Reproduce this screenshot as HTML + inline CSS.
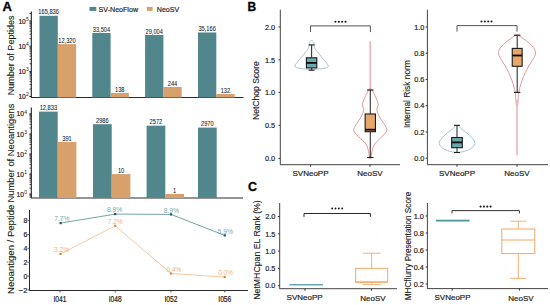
<!DOCTYPE html>
<html><head><meta charset="utf-8"><style>
html,body{margin:0;padding:0;background:#fff;}
svg{display:block;font-family:"Liberation Sans", sans-serif;}
text{paint-order:stroke;}
</style></head><body>
<svg width="550" height="305" viewBox="0 0 550 305">
<rect width="550" height="305" fill="#fff"/>
<text x="2.4" y="10.5" font-size="13" text-anchor="start" fill="#000" font-weight="bold" stroke="#000" stroke-width="0.325" >A</text>
<text x="247.6" y="10.8" font-size="12" text-anchor="start" fill="#000" font-weight="bold" stroke="#000" stroke-width="0.3" >B</text>
<text x="248" y="190.6" font-size="12.5" text-anchor="start" fill="#000" font-weight="bold" stroke="#000" stroke-width="0.312" >C</text>
<line x1="31.3" y1="11.5" x2="31.3" y2="97.5" stroke="#1e1e1e" stroke-width="1.1" />
<line x1="29.3" y1="21.05" x2="31.3" y2="21.05" stroke="#1e1e1e" stroke-width="1" />
<text x="25.8" y="23.55" font-size="7.6" text-anchor="end" fill="#1a1a1a" stroke="#1a1a1a" stroke-width="0.2" textLength="7.4" lengthAdjust="spacingAndGlyphs">10</text>
<text x="26.1" y="20.85" font-size="5" text-anchor="start" fill="#1a1a1a">5</text>
<line x1="29.3" y1="46.2" x2="31.3" y2="46.2" stroke="#1e1e1e" stroke-width="1" />
<text x="25.8" y="48.7" font-size="7.6" text-anchor="end" fill="#1a1a1a" stroke="#1a1a1a" stroke-width="0.2" textLength="7.4" lengthAdjust="spacingAndGlyphs">10</text>
<text x="26.1" y="46.0" font-size="5" text-anchor="start" fill="#1a1a1a">4</text>
<line x1="29.3" y1="71.4" x2="31.3" y2="71.4" stroke="#1e1e1e" stroke-width="1" />
<text x="25.8" y="73.9" font-size="7.6" text-anchor="end" fill="#1a1a1a" stroke="#1a1a1a" stroke-width="0.2" textLength="7.4" lengthAdjust="spacingAndGlyphs">10</text>
<text x="26.1" y="71.2" font-size="5" text-anchor="start" fill="#1a1a1a">3</text>
<line x1="29.3" y1="96.56" x2="31.3" y2="96.56" stroke="#1e1e1e" stroke-width="1" />
<text x="25.8" y="99.06" font-size="7.6" text-anchor="end" fill="#1a1a1a" stroke="#1a1a1a" stroke-width="0.2" textLength="7.4" lengthAdjust="spacingAndGlyphs">10</text>
<text x="26.1" y="96.36" font-size="5" text-anchor="start" fill="#1a1a1a">2</text>
<line x1="29.5" y1="38.62909560905088" x2="31.3" y2="38.62909560905088" stroke="#1e1e1e" stroke-width="0.8" />
<line x1="29.5" y1="34.20040044380049" x2="31.3" y2="34.20040044380049" stroke="#1e1e1e" stroke-width="0.8" />
<line x1="29.5" y1="31.058191218101747" x2="31.3" y2="31.058191218101747" stroke="#1e1e1e" stroke-width="0.8" />
<line x1="29.5" y1="28.62090439094913" x2="31.3" y2="28.62090439094913" stroke="#1e1e1e" stroke-width="0.8" />
<line x1="29.5" y1="26.629496052851366" x2="31.3" y2="26.629496052851366" stroke="#1e1e1e" stroke-width="0.8" />
<line x1="29.5" y1="24.94578429364144" x2="31.3" y2="24.94578429364144" stroke="#1e1e1e" stroke-width="0.8" />
<line x1="29.5" y1="23.48728682715262" x2="31.3" y2="23.48728682715262" stroke="#1e1e1e" stroke-width="0.8" />
<line x1="29.5" y1="22.20080088760098" x2="31.3" y2="22.20080088760098" stroke="#1e1e1e" stroke-width="0.8" />
<line x1="29.5" y1="63.779095609050884" x2="31.3" y2="63.779095609050884" stroke="#1e1e1e" stroke-width="0.8" />
<line x1="29.5" y1="59.350400443800496" x2="31.3" y2="59.350400443800496" stroke="#1e1e1e" stroke-width="0.8" />
<line x1="29.5" y1="56.20819121810175" x2="31.3" y2="56.20819121810175" stroke="#1e1e1e" stroke-width="0.8" />
<line x1="29.5" y1="53.770904390949134" x2="31.3" y2="53.770904390949134" stroke="#1e1e1e" stroke-width="0.8" />
<line x1="29.5" y1="51.77949605285137" x2="31.3" y2="51.77949605285137" stroke="#1e1e1e" stroke-width="0.8" />
<line x1="29.5" y1="50.095784293641444" x2="31.3" y2="50.095784293641444" stroke="#1e1e1e" stroke-width="0.8" />
<line x1="29.5" y1="48.63728682715262" x2="31.3" y2="48.63728682715262" stroke="#1e1e1e" stroke-width="0.8" />
<line x1="29.5" y1="47.35080088760098" x2="31.3" y2="47.35080088760098" stroke="#1e1e1e" stroke-width="0.8" />
<line x1="29.5" y1="88.97909560905089" x2="31.3" y2="88.97909560905089" stroke="#1e1e1e" stroke-width="0.8" />
<line x1="29.5" y1="84.5504004438005" x2="31.3" y2="84.5504004438005" stroke="#1e1e1e" stroke-width="0.8" />
<line x1="29.5" y1="81.40819121810176" x2="31.3" y2="81.40819121810176" stroke="#1e1e1e" stroke-width="0.8" />
<line x1="29.5" y1="78.97090439094913" x2="31.3" y2="78.97090439094913" stroke="#1e1e1e" stroke-width="0.8" />
<line x1="29.5" y1="76.97949605285137" x2="31.3" y2="76.97949605285137" stroke="#1e1e1e" stroke-width="0.8" />
<line x1="29.5" y1="75.29578429364145" x2="31.3" y2="75.29578429364145" stroke="#1e1e1e" stroke-width="0.8" />
<line x1="29.5" y1="73.83728682715262" x2="31.3" y2="73.83728682715262" stroke="#1e1e1e" stroke-width="0.8" />
<line x1="29.5" y1="72.55080088760099" x2="31.3" y2="72.55080088760099" stroke="#1e1e1e" stroke-width="0.8" />
<line x1="29.5" y1="13.479095609050873" x2="31.3" y2="13.479095609050873" stroke="#1e1e1e" stroke-width="0.8" />
<line x1="31" y1="97.5" x2="243.6" y2="97.5" stroke="#2a2a2a" stroke-width="1" />
<rect x="39.5" y="15.8" width="18.3" height="81.7" fill="#50868C" />
<rect x="57.8" y="44.1" width="18.3" height="53.4" fill="#D8A06B" />
<text x="48.65" y="14.4" font-size="6.5" text-anchor="middle" fill="#1a1a1a" font-weight="normal" stroke="#1a1a1a" stroke-width="0.06" textLength="20.60" lengthAdjust="spacingAndGlyphs">165,836</text>
<text x="66.95" y="42.7" font-size="6.5" text-anchor="middle" fill="#1a1a1a" font-weight="normal" stroke="#1a1a1a" stroke-width="0.06" textLength="17.43" lengthAdjust="spacingAndGlyphs">12,320</text>
<rect x="92.3" y="33" width="18.3" height="64.5" fill="#50868C" />
<rect x="110.6" y="93" width="18.3" height="4.5" fill="#D8A06B" />
<text x="101.45" y="31.6" font-size="6.5" text-anchor="middle" fill="#1a1a1a" font-weight="normal" stroke="#1a1a1a" stroke-width="0.06" textLength="17.43" lengthAdjust="spacingAndGlyphs">33,504</text>
<text x="119.75" y="91.6" font-size="6.5" text-anchor="middle" fill="#1a1a1a" font-weight="normal" stroke="#1a1a1a" stroke-width="0.06" textLength="9.51" lengthAdjust="spacingAndGlyphs">138</text>
<rect x="145.1" y="35" width="18.3" height="62.5" fill="#50868C" />
<rect x="163.4" y="87" width="18.3" height="10.5" fill="#D8A06B" />
<text x="154.25" y="33.6" font-size="6.5" text-anchor="middle" fill="#1a1a1a" font-weight="normal" stroke="#1a1a1a" stroke-width="0.06" textLength="17.43" lengthAdjust="spacingAndGlyphs">29,004</text>
<text x="172.55" y="85.6" font-size="6.5" text-anchor="middle" fill="#1a1a1a" font-weight="normal" stroke="#1a1a1a" stroke-width="0.06" textLength="9.51" lengthAdjust="spacingAndGlyphs">244</text>
<rect x="198" y="32.5" width="18.3" height="65.0" fill="#50868C" />
<rect x="216.3" y="94" width="18.3" height="3.5" fill="#D8A06B" />
<text x="207.15" y="31.1" font-size="6.5" text-anchor="middle" fill="#1a1a1a" font-weight="normal" stroke="#1a1a1a" stroke-width="0.06" textLength="17.43" lengthAdjust="spacingAndGlyphs">35,166</text>
<text x="225.45" y="92.6" font-size="6.5" text-anchor="middle" fill="#1a1a1a" font-weight="normal" stroke="#1a1a1a" stroke-width="0.06" textLength="9.51" lengthAdjust="spacingAndGlyphs">132</text>
<rect x="89.5" y="6.9" width="6.8" height="4" fill="#50868C" />
<text x="98.6" y="11.5" font-size="7.1" text-anchor="start" fill="#222" font-weight="normal" stroke="#222" stroke-width="0.177" >SV-NeoFlow</text>
<rect x="146.8" y="6.9" width="5.8" height="4" fill="#D8A06B" />
<text x="156.8" y="11.5" font-size="7.1" text-anchor="start" fill="#222" font-weight="normal" stroke="#222" stroke-width="0.177" >NeoSV</text>
<text x="0" y="0" font-size="8.4" text-anchor="middle" fill="#1a1a1a" stroke="#1a1a1a" stroke-width="0.12" textLength="79.8" lengthAdjust="spacingAndGlyphs" transform="translate(13.9,55.4) rotate(-90)">Number of Peptides</text>
<line x1="31.3" y1="107.6" x2="31.3" y2="198" stroke="#1e1e1e" stroke-width="1.1" />
<line x1="29.3" y1="113.8" x2="31.3" y2="113.8" stroke="#1e1e1e" stroke-width="1" />
<text x="23.9" y="116.3" font-size="7.6" text-anchor="end" fill="#1a1a1a" stroke="#1a1a1a" stroke-width="0.2" textLength="7.4" lengthAdjust="spacingAndGlyphs">10</text>
<text x="24.2" y="113.6" font-size="5" text-anchor="start" fill="#1a1a1a">4</text>
<line x1="29.3" y1="134" x2="31.3" y2="134" stroke="#1e1e1e" stroke-width="1" />
<text x="23.9" y="136.5" font-size="7.6" text-anchor="end" fill="#1a1a1a" stroke="#1a1a1a" stroke-width="0.2" textLength="7.4" lengthAdjust="spacingAndGlyphs">10</text>
<text x="24.2" y="133.8" font-size="5" text-anchor="start" fill="#1a1a1a">3</text>
<line x1="29.3" y1="154" x2="31.3" y2="154" stroke="#1e1e1e" stroke-width="1" />
<text x="23.9" y="156.5" font-size="7.6" text-anchor="end" fill="#1a1a1a" stroke="#1a1a1a" stroke-width="0.2" textLength="7.4" lengthAdjust="spacingAndGlyphs">10</text>
<text x="24.2" y="153.8" font-size="5" text-anchor="start" fill="#1a1a1a">2</text>
<line x1="29.3" y1="174" x2="31.3" y2="174" stroke="#1e1e1e" stroke-width="1" />
<text x="23.9" y="176.5" font-size="7.6" text-anchor="end" fill="#1a1a1a" stroke="#1a1a1a" stroke-width="0.2" textLength="7.4" lengthAdjust="spacingAndGlyphs">10</text>
<text x="24.2" y="173.8" font-size="5" text-anchor="start" fill="#1a1a1a">1</text>
<line x1="29.3" y1="194" x2="31.3" y2="194" stroke="#1e1e1e" stroke-width="1" />
<text x="23.9" y="196.5" font-size="7.6" text-anchor="end" fill="#1a1a1a" stroke="#1a1a1a" stroke-width="0.2" textLength="7.4" lengthAdjust="spacingAndGlyphs">10</text>
<text x="24.2" y="193.8" font-size="5" text-anchor="start" fill="#1a1a1a">0</text>
<line x1="29.5" y1="127.91919408758758" x2="31.3" y2="127.91919408758758" stroke="#1e1e1e" stroke-width="0.8" />
<line x1="29.5" y1="124.36215065466281" x2="31.3" y2="124.36215065466281" stroke="#1e1e1e" stroke-width="0.8" />
<line x1="29.5" y1="121.83838817517515" x2="31.3" y2="121.83838817517515" stroke="#1e1e1e" stroke-width="0.8" />
<line x1="29.5" y1="119.88080591241241" x2="31.3" y2="119.88080591241241" stroke="#1e1e1e" stroke-width="0.8" />
<line x1="29.5" y1="118.2813447422504" x2="31.3" y2="118.2813447422504" stroke="#1e1e1e" stroke-width="0.8" />
<line x1="29.5" y1="116.929019591712" x2="31.3" y2="116.929019591712" stroke="#1e1e1e" stroke-width="0.8" />
<line x1="29.5" y1="115.75758226276274" x2="31.3" y2="115.75758226276274" stroke="#1e1e1e" stroke-width="0.8" />
<line x1="29.5" y1="114.72430130932564" x2="31.3" y2="114.72430130932564" stroke="#1e1e1e" stroke-width="0.8" />
<line x1="29.5" y1="148.11919408758757" x2="31.3" y2="148.11919408758757" stroke="#1e1e1e" stroke-width="0.8" />
<line x1="29.5" y1="144.56215065466282" x2="31.3" y2="144.56215065466282" stroke="#1e1e1e" stroke-width="0.8" />
<line x1="29.5" y1="142.03838817517516" x2="31.3" y2="142.03838817517516" stroke="#1e1e1e" stroke-width="0.8" />
<line x1="29.5" y1="140.08080591241242" x2="31.3" y2="140.08080591241242" stroke="#1e1e1e" stroke-width="0.8" />
<line x1="29.5" y1="138.48134474225037" x2="31.3" y2="138.48134474225037" stroke="#1e1e1e" stroke-width="0.8" />
<line x1="29.5" y1="137.129019591712" x2="31.3" y2="137.129019591712" stroke="#1e1e1e" stroke-width="0.8" />
<line x1="29.5" y1="135.95758226276274" x2="31.3" y2="135.95758226276274" stroke="#1e1e1e" stroke-width="0.8" />
<line x1="29.5" y1="134.9243013093256" x2="31.3" y2="134.9243013093256" stroke="#1e1e1e" stroke-width="0.8" />
<line x1="29.5" y1="168.11919408758757" x2="31.3" y2="168.11919408758757" stroke="#1e1e1e" stroke-width="0.8" />
<line x1="29.5" y1="164.56215065466282" x2="31.3" y2="164.56215065466282" stroke="#1e1e1e" stroke-width="0.8" />
<line x1="29.5" y1="162.03838817517516" x2="31.3" y2="162.03838817517516" stroke="#1e1e1e" stroke-width="0.8" />
<line x1="29.5" y1="160.08080591241242" x2="31.3" y2="160.08080591241242" stroke="#1e1e1e" stroke-width="0.8" />
<line x1="29.5" y1="158.48134474225037" x2="31.3" y2="158.48134474225037" stroke="#1e1e1e" stroke-width="0.8" />
<line x1="29.5" y1="157.129019591712" x2="31.3" y2="157.129019591712" stroke="#1e1e1e" stroke-width="0.8" />
<line x1="29.5" y1="155.95758226276274" x2="31.3" y2="155.95758226276274" stroke="#1e1e1e" stroke-width="0.8" />
<line x1="29.5" y1="154.9243013093256" x2="31.3" y2="154.9243013093256" stroke="#1e1e1e" stroke-width="0.8" />
<line x1="29.5" y1="188.11919408758757" x2="31.3" y2="188.11919408758757" stroke="#1e1e1e" stroke-width="0.8" />
<line x1="29.5" y1="184.56215065466282" x2="31.3" y2="184.56215065466282" stroke="#1e1e1e" stroke-width="0.8" />
<line x1="29.5" y1="182.03838817517516" x2="31.3" y2="182.03838817517516" stroke="#1e1e1e" stroke-width="0.8" />
<line x1="29.5" y1="180.08080591241242" x2="31.3" y2="180.08080591241242" stroke="#1e1e1e" stroke-width="0.8" />
<line x1="29.5" y1="178.48134474225037" x2="31.3" y2="178.48134474225037" stroke="#1e1e1e" stroke-width="0.8" />
<line x1="29.5" y1="177.129019591712" x2="31.3" y2="177.129019591712" stroke="#1e1e1e" stroke-width="0.8" />
<line x1="29.5" y1="175.95758226276274" x2="31.3" y2="175.95758226276274" stroke="#1e1e1e" stroke-width="0.8" />
<line x1="29.5" y1="174.9243013093256" x2="31.3" y2="174.9243013093256" stroke="#1e1e1e" stroke-width="0.8" />
<line x1="29.5" y1="197.129019591712" x2="31.3" y2="197.129019591712" stroke="#1e1e1e" stroke-width="0.8" />
<line x1="29.5" y1="195.95758226276274" x2="31.3" y2="195.95758226276274" stroke="#1e1e1e" stroke-width="0.8" />
<line x1="29.5" y1="194.9243013093256" x2="31.3" y2="194.9243013093256" stroke="#1e1e1e" stroke-width="0.8" />
<line x1="31" y1="198" x2="243" y2="198" stroke="#2a2a2a" stroke-width="1" />
<rect x="39" y="111.6" width="18.7" height="86.4" fill="#50868C" />
<text x="48.35" y="110.19999999999999" font-size="6.5" text-anchor="middle" fill="#1a1a1a" font-weight="normal" stroke="#1a1a1a" stroke-width="0.06" textLength="17.43" lengthAdjust="spacingAndGlyphs">12,833</text>
<rect x="57.7" y="142" width="18.7" height="56" fill="#D8A06B" />
<text x="67.05" y="140.6" font-size="6.5" text-anchor="middle" fill="#1a1a1a" font-weight="normal" stroke="#1a1a1a" stroke-width="0.06" textLength="9.51" lengthAdjust="spacingAndGlyphs">391</text>
<rect x="93" y="124.2" width="18.7" height="73.8" fill="#50868C" />
<text x="102.35" y="122.8" font-size="6.5" text-anchor="middle" fill="#1a1a1a" font-weight="normal" stroke="#1a1a1a" stroke-width="0.06" textLength="12.68" lengthAdjust="spacingAndGlyphs">2986</text>
<rect x="111.7" y="174.1" width="18.7" height="23.900000000000006" fill="#D8A06B" />
<text x="121.05" y="172.7" font-size="6.5" text-anchor="middle" fill="#1a1a1a" font-weight="normal" stroke="#1a1a1a" stroke-width="0.06" textLength="6.34" lengthAdjust="spacingAndGlyphs">10</text>
<rect x="146.6" y="125.7" width="18.7" height="72.3" fill="#50868C" />
<text x="155.95" y="124.3" font-size="6.5" text-anchor="middle" fill="#1a1a1a" font-weight="normal" stroke="#1a1a1a" stroke-width="0.06" textLength="12.68" lengthAdjust="spacingAndGlyphs">2572</text>
<rect x="165.29999999999998" y="194" width="18.7" height="4" fill="#D8A06B" />
<text x="174.64999999999998" y="192.6" font-size="6.5" text-anchor="middle" fill="#1a1a1a" font-weight="normal" stroke="#1a1a1a" stroke-width="0.06" textLength="3.17" lengthAdjust="spacingAndGlyphs">1</text>
<rect x="198" y="127.6" width="18.7" height="70.4" fill="#50868C" />
<text x="207.35" y="126.19999999999999" font-size="6.5" text-anchor="middle" fill="#1a1a1a" font-weight="normal" stroke="#1a1a1a" stroke-width="0.06" textLength="12.68" lengthAdjust="spacingAndGlyphs">2970</text>
<text x="0" y="0" font-size="8.4" text-anchor="middle" fill="#1a1a1a" stroke="#1a1a1a" stroke-width="0.12" textLength="98.8" lengthAdjust="spacingAndGlyphs" transform="translate(13.9,153.1) rotate(-90)">Number of Neoantigens</text>
<line x1="29.5" y1="210" x2="29.5" y2="290.5" stroke="#2a2a2a" stroke-width="1" />
<line x1="27.5" y1="220.58" x2="30" y2="220.58" stroke="#3a3a3a" stroke-width="0.8" />
<text x="27.4" y="223.48000000000002" font-size="8" text-anchor="end" fill="#1a1a1a" font-weight="normal" stroke="#1a1a1a" stroke-width="0.2" textLength="3.9" lengthAdjust="spacingAndGlyphs">8</text>
<line x1="27.5" y1="234.46000000000004" x2="30" y2="234.46000000000004" stroke="#3a3a3a" stroke-width="0.8" />
<text x="27.4" y="237.36000000000004" font-size="8" text-anchor="end" fill="#1a1a1a" font-weight="normal" stroke="#1a1a1a" stroke-width="0.2" textLength="3.9" lengthAdjust="spacingAndGlyphs">6</text>
<line x1="27.5" y1="248.34000000000003" x2="30" y2="248.34000000000003" stroke="#3a3a3a" stroke-width="0.8" />
<text x="27.4" y="251.24000000000004" font-size="8" text-anchor="end" fill="#1a1a1a" font-weight="normal" stroke="#1a1a1a" stroke-width="0.2" textLength="3.9" lengthAdjust="spacingAndGlyphs">4</text>
<line x1="27.5" y1="262.22" x2="30" y2="262.22" stroke="#3a3a3a" stroke-width="0.8" />
<text x="27.4" y="265.12" font-size="8" text-anchor="end" fill="#1a1a1a" font-weight="normal" stroke="#1a1a1a" stroke-width="0.2" textLength="3.9" lengthAdjust="spacingAndGlyphs">2</text>
<line x1="27.5" y1="276.1" x2="30" y2="276.1" stroke="#3a3a3a" stroke-width="0.8" />
<text x="27.4" y="279.0" font-size="8" text-anchor="end" fill="#1a1a1a" font-weight="normal" stroke="#1a1a1a" stroke-width="0.2" textLength="3.9" lengthAdjust="spacingAndGlyphs">0</text>
<line x1="27.5" y1="289.98" x2="30" y2="289.98" stroke="#3a3a3a" stroke-width="0.8" />
<text x="27.4" y="292.88" font-size="8" text-anchor="end" fill="#1a1a1a" font-weight="normal" stroke="#1a1a1a" stroke-width="0.2" textLength="8.6" lengthAdjust="spacingAndGlyphs">−2</text>
<line x1="29.5" y1="290.5" x2="248" y2="290.5" stroke="#2a2a2a" stroke-width="1" />
<line x1="60" y1="290.4" x2="60" y2="292.5" stroke="#3a3a3a" stroke-width="0.8" />
<text x="60" y="302.4" font-size="8.6" text-anchor="middle" fill="#1a1a1a" font-weight="normal" stroke="#1a1a1a" stroke-width="0.215" textLength="13" lengthAdjust="spacingAndGlyphs">I041</text>
<line x1="115.2" y1="290.4" x2="115.2" y2="292.5" stroke="#3a3a3a" stroke-width="0.8" />
<text x="115.2" y="302.4" font-size="8.6" text-anchor="middle" fill="#1a1a1a" font-weight="normal" stroke="#1a1a1a" stroke-width="0.215" textLength="13" lengthAdjust="spacingAndGlyphs">I048</text>
<line x1="171" y1="290.4" x2="171" y2="292.5" stroke="#3a3a3a" stroke-width="0.8" />
<text x="171" y="302.4" font-size="8.6" text-anchor="middle" fill="#1a1a1a" font-weight="normal" stroke="#1a1a1a" stroke-width="0.215" textLength="13" lengthAdjust="spacingAndGlyphs">I052</text>
<line x1="224.8" y1="290.4" x2="224.8" y2="292.5" stroke="#3a3a3a" stroke-width="0.8" />
<text x="224.8" y="302.4" font-size="8.6" text-anchor="middle" fill="#1a1a1a" font-weight="normal" stroke="#1a1a1a" stroke-width="0.215" textLength="13" lengthAdjust="spacingAndGlyphs">I056</text>
<polyline points="60.6,223.1 115.2,214.1 171,214.4 224.8,235.4" fill="none" stroke="#4f8b8d" stroke-width="0.8"/>
<polyline points="60.6,253.9 115.2,225.8 171,273.5 224.8,277" fill="none" stroke="#f2bb8a" stroke-width="0.8"/>
<rect x="59.5" y="222.0" width="2.2" height="2.2" fill="#1f5a5c"/>
<text x="61.9" y="221.2" font-size="7.2" text-anchor="middle" fill="#5e9a9c" font-weight="normal" textLength="15.4" lengthAdjust="spacingAndGlyphs" opacity="0.85">7.7%</text>
<rect x="114.10000000000001" y="213.0" width="2.2" height="2.2" fill="#1f5a5c"/>
<text x="114.60000000000001" y="212.2" font-size="7.2" text-anchor="middle" fill="#5e9a9c" font-weight="normal" textLength="15.4" lengthAdjust="spacingAndGlyphs" opacity="0.85">8.9%</text>
<rect x="169.9" y="213.3" width="2.2" height="2.2" fill="#1f5a5c"/>
<text x="171.4" y="212.5" font-size="7.2" text-anchor="middle" fill="#5e9a9c" font-weight="normal" textLength="15.4" lengthAdjust="spacingAndGlyphs" opacity="0.85">8.9%</text>
<rect x="223.70000000000002" y="234.3" width="2.2" height="2.2" fill="#1f5a5c"/>
<text x="225.3" y="233.5" font-size="7.2" text-anchor="middle" fill="#5e9a9c" font-weight="normal" textLength="15.4" lengthAdjust="spacingAndGlyphs" opacity="0.85">5.9%</text>
<rect x="59.5" y="252.8" width="2.2" height="2.2" fill="#d9853f"/>
<text x="61.5" y="252.0" font-size="7.2" text-anchor="middle" fill="#eda56a" font-weight="normal" textLength="14.8" lengthAdjust="spacingAndGlyphs" opacity="0.85">3.2%</text>
<rect x="114.10000000000001" y="224.70000000000002" width="2.2" height="2.2" fill="#d9853f"/>
<text x="115.2" y="223.9" font-size="7.2" text-anchor="middle" fill="#eda56a" font-weight="normal" textLength="14.8" lengthAdjust="spacingAndGlyphs" opacity="0.85">7.2%</text>
<rect x="169.9" y="272.4" width="2.2" height="2.2" fill="#d9853f"/>
<text x="173.8" y="271.6" font-size="7.2" text-anchor="middle" fill="#eda56a" font-weight="normal" textLength="14.8" lengthAdjust="spacingAndGlyphs" opacity="0.85">0.4%</text>
<rect x="223.70000000000002" y="275.9" width="2.2" height="2.2" fill="#d9853f"/>
<text x="225.60000000000002" y="275.1" font-size="7.2" text-anchor="middle" fill="#eda56a" font-weight="normal" textLength="14.8" lengthAdjust="spacingAndGlyphs" opacity="0.85">0.0%</text>
<text x="0" y="0" font-size="8.4" text-anchor="middle" fill="#1a1a1a" stroke="#1a1a1a" stroke-width="0.12" textLength="89.2" lengthAdjust="spacingAndGlyphs" transform="translate(14.1,249.3) rotate(-90)">Neoantigen / Peptide</text>
<line x1="280.3" y1="9.7" x2="280.3" y2="164.7" stroke="#444" stroke-width="1" />
<line x1="278.5" y1="27" x2="280.3" y2="27" stroke="#333" stroke-width="1.0" />
<text x="275.20000000000005" y="29.7" font-size="7.3" text-anchor="end" fill="#222" font-weight="normal" stroke="#222" stroke-width="0.182" >2.0</text>
<line x1="278.5" y1="59.8" x2="280.3" y2="59.8" stroke="#333" stroke-width="1.0" />
<text x="275.20000000000005" y="62.5" font-size="7.3" text-anchor="end" fill="#222" font-weight="normal" stroke="#222" stroke-width="0.182" >1.5</text>
<line x1="278.5" y1="92.5" x2="280.3" y2="92.5" stroke="#333" stroke-width="1.0" />
<text x="275.20000000000005" y="95.2" font-size="7.3" text-anchor="end" fill="#222" font-weight="normal" stroke="#222" stroke-width="0.182" >1.0</text>
<line x1="278.5" y1="125.3" x2="280.3" y2="125.3" stroke="#333" stroke-width="1.0" />
<text x="275.20000000000005" y="128.0" font-size="7.3" text-anchor="end" fill="#222" font-weight="normal" stroke="#222" stroke-width="0.182" >0.5</text>
<line x1="278.5" y1="158.5" x2="280.3" y2="158.5" stroke="#333" stroke-width="1.0" />
<text x="275.20000000000005" y="161.2" font-size="7.3" text-anchor="end" fill="#222" font-weight="normal" stroke="#222" stroke-width="0.182" >0.0</text>
<line x1="280" y1="164.7" x2="400" y2="164.7" stroke="#444" stroke-width="1" />
<line x1="310.5" y1="164.7" x2="310.5" y2="166.7" stroke="#333" stroke-width="1.0" />
<text x="310.5" y="176.1" font-size="8" text-anchor="middle" fill="#222" font-weight="normal" stroke="#222" stroke-width="0.2" >SVNeoPP</text>
<line x1="370" y1="164.7" x2="370" y2="166.7" stroke="#333" stroke-width="1.0" />
<text x="370" y="176.1" font-size="8" text-anchor="middle" fill="#222" font-weight="normal" stroke="#222" stroke-width="0.2" >NeoSV</text>
<text x="0" y="0" font-size="8.4" text-anchor="middle" fill="#1a1a1a" stroke="#1a1a1a" stroke-width="0.12" textLength="58.9" lengthAdjust="spacingAndGlyphs" transform="translate(258.9,90.65) rotate(-90)">NetChop Score</text>
<path d="M310.5,32 V25.9 H370.4 V32" fill="none" stroke="#555" stroke-width="1"/>
<circle cx="335.48" cy="21.80" r="1.05" fill="#1a1a1a"/>
<circle cx="338.82" cy="21.80" r="1.05" fill="#1a1a1a"/>
<circle cx="342.18" cy="21.80" r="1.05" fill="#1a1a1a"/>
<circle cx="345.52" cy="21.80" r="1.05" fill="#1a1a1a"/>
<line x1="427.4" y1="9.7" x2="427.4" y2="164.7" stroke="#444" stroke-width="1" />
<line x1="425.59999999999997" y1="27" x2="427.4" y2="27" stroke="#333" stroke-width="1.0" />
<text x="424.3" y="29.7" font-size="7.3" text-anchor="end" fill="#222" font-weight="normal" stroke="#222" stroke-width="0.182" >1.0</text>
<line x1="425.59999999999997" y1="53.2" x2="427.4" y2="53.2" stroke="#333" stroke-width="1.0" />
<text x="424.3" y="55.900000000000006" font-size="7.3" text-anchor="end" fill="#222" font-weight="normal" stroke="#222" stroke-width="0.182" >0.8</text>
<line x1="425.59999999999997" y1="79.4" x2="427.4" y2="79.4" stroke="#333" stroke-width="1.0" />
<text x="424.3" y="82.10000000000001" font-size="7.3" text-anchor="end" fill="#222" font-weight="normal" stroke="#222" stroke-width="0.182" >0.6</text>
<line x1="425.59999999999997" y1="105.7" x2="427.4" y2="105.7" stroke="#333" stroke-width="1.0" />
<text x="424.3" y="108.4" font-size="7.3" text-anchor="end" fill="#222" font-weight="normal" stroke="#222" stroke-width="0.182" >0.4</text>
<line x1="425.59999999999997" y1="132" x2="427.4" y2="132" stroke="#333" stroke-width="1.0" />
<text x="424.3" y="134.7" font-size="7.3" text-anchor="end" fill="#222" font-weight="normal" stroke="#222" stroke-width="0.182" >0.2</text>
<line x1="425.59999999999997" y1="158.2" x2="427.4" y2="158.2" stroke="#333" stroke-width="1.0" />
<text x="424.3" y="160.89999999999998" font-size="7.3" text-anchor="end" fill="#222" font-weight="normal" stroke="#222" stroke-width="0.182" >0.0</text>
<line x1="427.4" y1="164.7" x2="548" y2="164.7" stroke="#444" stroke-width="1" />
<line x1="457" y1="164.7" x2="457" y2="166.7" stroke="#333" stroke-width="1.0" />
<text x="457" y="176.1" font-size="8" text-anchor="middle" fill="#222" font-weight="normal" stroke="#222" stroke-width="0.2" >SVNeoPP</text>
<line x1="517" y1="164.7" x2="517" y2="166.7" stroke="#333" stroke-width="1.0" />
<text x="517" y="176.1" font-size="8" text-anchor="middle" fill="#222" font-weight="normal" stroke="#222" stroke-width="0.2" >NeoSV</text>
<text x="0" y="0" font-size="8.4" text-anchor="middle" fill="#1a1a1a" stroke="#1a1a1a" stroke-width="0.12" textLength="67.8" lengthAdjust="spacingAndGlyphs" transform="translate(410.3,94.1) rotate(-90)">Internal Risk norm</text>
<path d="M457,31.6 V25.6 H517 V31.6" fill="none" stroke="#555" stroke-width="1"/>
<circle cx="481.48" cy="21.50" r="1.05" fill="#1a1a1a"/>
<circle cx="484.82" cy="21.50" r="1.05" fill="#1a1a1a"/>
<circle cx="488.18" cy="21.50" r="1.05" fill="#1a1a1a"/>
<circle cx="491.52" cy="21.50" r="1.05" fill="#1a1a1a"/>
<path d="M311.60,40.70 C312.07,40.70 312.65,40.98 313.00,41.30 C313.35,41.62 313.53,42.00 313.70,42.60 C313.87,43.20 313.85,44.03 314.00,44.90 C314.15,45.77 314.12,46.73 314.60,47.80 C315.08,48.87 316.02,50.12 316.90,51.30 C317.78,52.48 318.92,53.72 319.90,54.90 C320.88,56.08 321.82,57.22 322.80,58.40 C323.78,59.58 324.93,60.90 325.80,62.00 C326.67,63.10 327.63,64.18 328.00,65.00 C328.37,65.82 328.65,66.35 328.00,66.90 C327.35,67.45 325.83,67.95 324.10,68.30 C322.37,68.65 319.68,68.85 317.60,69.00 C315.52,69.15 313.60,69.20 311.60,69.20 C309.60,69.20 307.68,69.15 305.60,69.00 C303.52,68.85 300.83,68.65 299.10,68.30 C297.37,67.95 295.85,67.45 295.20,66.90 C294.55,66.35 294.83,65.82 295.20,65.00 C295.57,64.18 296.53,63.10 297.40,62.00 C298.27,60.90 299.42,59.58 300.40,58.40 C301.38,57.22 302.32,56.08 303.30,54.90 C304.28,53.72 305.42,52.48 306.30,51.30 C307.18,50.12 308.12,48.87 308.60,47.80 C309.08,46.73 309.05,45.77 309.20,44.90 C309.35,44.03 309.33,43.20 309.50,42.60 C309.67,42.00 309.85,41.62 310.20,41.30 C310.55,40.98 311.13,40.70 311.60,40.70 Z" fill="none" stroke="#a6c6d6" stroke-width="1.0" stroke-linejoin="round"/>
<line x1="311.6" y1="44.9" x2="311.6" y2="57.8" stroke="#333" stroke-width="1.1" />
<line x1="311.6" y1="67.9" x2="311.6" y2="70.2" stroke="#333" stroke-width="1.1" />
<line x1="308.6" y1="44.9" x2="314.6" y2="44.9" stroke="#1a1a1a" stroke-width="1.1" />
<line x1="308.6" y1="70.2" x2="314.6" y2="70.2" stroke="#1a1a1a" stroke-width="1.1" />
<rect x="306.40000000000003" y="57.8" width="10.4" height="10.100000000000009" fill="#6aabae" stroke="#1a1a1a" stroke-width="1.1"/>
<line x1="306.40000000000003" y1="62.9" x2="316.8" y2="62.9" stroke="#0a0a0a" stroke-width="1.8" />
<line x1="370.3" y1="41" x2="370.3" y2="90" stroke="#eeb3b8" stroke-width="1.6" />
<path d="M370.30,88.00 C370.87,88.00 371.10,88.45 372.00,90.00 C372.90,91.55 374.67,94.85 375.70,97.30 C376.73,99.75 378.00,102.65 378.20,104.70 C378.40,106.75 376.68,107.55 376.90,109.60 C377.12,111.65 378.27,114.55 379.50,117.00 C380.73,119.45 383.08,122.05 384.30,124.30 C385.52,126.55 387.17,128.45 386.80,130.50 C386.43,132.55 384.12,134.35 382.10,136.60 C380.08,138.85 376.38,141.55 374.70,144.00 C373.02,146.45 372.62,149.05 372.00,151.30 C371.38,153.55 371.28,156.25 371.00,157.50 C370.72,158.75 370.53,158.80 370.30,158.80 C370.07,158.80 369.88,158.75 369.60,157.50 C369.32,156.25 369.22,153.55 368.60,151.30 C367.98,149.05 367.58,146.45 365.90,144.00 C364.22,141.55 360.52,138.85 358.50,136.60 C356.48,134.35 354.17,132.55 353.80,130.50 C353.43,128.45 355.08,126.55 356.30,124.30 C357.52,122.05 359.87,119.45 361.10,117.00 C362.33,114.55 363.48,111.65 363.70,109.60 C363.92,107.55 362.20,106.75 362.40,104.70 C362.60,102.65 363.87,99.75 364.90,97.30 C365.93,94.85 367.70,91.55 368.60,90.00 C369.50,88.45 369.73,88.00 370.30,88.00 Z" fill="none" stroke="#e4959a" stroke-width="1.0" stroke-linejoin="round"/>
<line x1="370.3" y1="90" x2="370.3" y2="114" stroke="#333" stroke-width="1.1" />
<line x1="370.3" y1="131.7" x2="370.3" y2="157.5" stroke="#333" stroke-width="1.1" />
<line x1="367.1" y1="90" x2="373.5" y2="90" stroke="#1a1a1a" stroke-width="1.1" />
<line x1="367.1" y1="157.5" x2="373.5" y2="157.5" stroke="#1a1a1a" stroke-width="1.1" />
<rect x="365.15000000000003" y="114" width="10.3" height="17.69999999999999" fill="#e8a76a" stroke="#1a1a1a" stroke-width="1.1"/>
<line x1="365.15000000000003" y1="129.7" x2="375.45" y2="129.7" stroke="#0a0a0a" stroke-width="1.8" />
<path d="M457.00,125.50 C457.80,125.50 458.32,126.15 459.40,127.00 C460.48,127.85 462.03,129.40 463.50,130.60 C464.97,131.80 466.82,133.02 468.20,134.20 C469.58,135.38 470.78,136.57 471.80,137.70 C472.82,138.83 473.80,140.03 474.30,141.00 C474.80,141.97 475.02,142.57 474.80,143.50 C474.58,144.43 473.90,145.60 473.00,146.60 C472.10,147.60 471.07,148.67 469.40,149.50 C467.73,150.33 465.07,151.10 463.00,151.60 C460.93,152.10 459.00,152.50 457.00,152.50 C455.00,152.50 453.07,152.10 451.00,151.60 C448.93,151.10 446.27,150.33 444.60,149.50 C442.93,148.67 441.90,147.60 441.00,146.60 C440.10,145.60 439.42,144.43 439.20,143.50 C438.98,142.57 439.20,141.97 439.70,141.00 C440.20,140.03 441.18,138.83 442.20,137.70 C443.22,136.57 444.42,135.38 445.80,134.20 C447.18,133.02 449.03,131.80 450.50,130.60 C451.97,129.40 453.52,127.85 454.60,127.00 C455.68,126.15 456.20,125.50 457.00,125.50 Z" fill="none" stroke="#a6c6d6" stroke-width="1.0" stroke-linejoin="round"/>
<line x1="457" y1="125.3" x2="457" y2="137.5" stroke="#333" stroke-width="1.1" />
<line x1="457" y1="147.7" x2="457" y2="152.5" stroke="#333" stroke-width="1.1" />
<line x1="454.0" y1="125.3" x2="460.0" y2="125.3" stroke="#1a1a1a" stroke-width="1.1" />
<line x1="454.0" y1="152.5" x2="460.0" y2="152.5" stroke="#1a1a1a" stroke-width="1.1" />
<rect x="451.7" y="137.5" width="10.6" height="10.199999999999989" fill="#6aabae" stroke="#1a1a1a" stroke-width="1.1"/>
<line x1="451.7" y1="142.4" x2="462.3" y2="142.4" stroke="#0a0a0a" stroke-width="1.8" />
<path d="M517.00,34.80 C517.67,34.80 517.87,34.90 519.00,35.60 C520.13,36.30 522.08,37.73 523.80,39.00 C525.52,40.27 527.57,41.58 529.30,43.20 C531.03,44.82 533.18,46.87 534.20,48.70 C535.22,50.53 535.68,52.32 535.40,54.20 C535.12,56.08 533.82,57.65 532.50,60.00 C531.18,62.35 528.98,65.55 527.50,68.30 C526.02,71.05 524.75,73.75 523.60,76.50 C522.45,79.25 521.40,82.15 520.60,84.80 C519.80,87.45 519.22,89.87 518.80,92.40 C518.38,94.93 518.28,98.07 518.10,100.00 C517.92,101.93 517.88,103.00 517.70,104.00 C517.52,105.00 517.23,106.00 517.00,106.00 C516.77,106.00 516.48,105.00 516.30,104.00 C516.12,103.00 516.08,101.93 515.90,100.00 C515.72,98.07 515.62,94.93 515.20,92.40 C514.78,89.87 514.20,87.45 513.40,84.80 C512.60,82.15 511.55,79.25 510.40,76.50 C509.25,73.75 507.98,71.05 506.50,68.30 C505.02,65.55 502.82,62.35 501.50,60.00 C500.18,57.65 498.88,56.08 498.60,54.20 C498.32,52.32 498.78,50.53 499.80,48.70 C500.82,46.87 502.97,44.82 504.70,43.20 C506.43,41.58 508.48,40.27 510.20,39.00 C511.92,37.73 513.87,36.30 515.00,35.60 C516.13,34.90 516.33,34.80 517.00,34.80 Z" fill="none" stroke="#e4959a" stroke-width="1.0" stroke-linejoin="round"/>
<line x1="517" y1="100" x2="517" y2="155.5" stroke="#eeb3b8" stroke-width="1.6" />
<line x1="517.2" y1="35.2" x2="517.2" y2="48.4" stroke="#333" stroke-width="1.1" />
<line x1="517.2" y1="66.3" x2="517.2" y2="92.4" stroke="#333" stroke-width="1.1" />
<line x1="514.0" y1="35.2" x2="520.4000000000001" y2="35.2" stroke="#1a1a1a" stroke-width="1.1" />
<line x1="514.0" y1="92.4" x2="520.4000000000001" y2="92.4" stroke="#1a1a1a" stroke-width="1.1" />
<rect x="512.25" y="48.4" width="9.9" height="17.9" fill="#e8a76a" stroke="#1a1a1a" stroke-width="1.1"/>
<line x1="512.25" y1="55.5" x2="522.1500000000001" y2="55.5" stroke="#0a0a0a" stroke-width="1.8" />
<line x1="279.7" y1="203" x2="279.7" y2="288.9" stroke="#444" stroke-width="1" />
<line x1="277.9" y1="216.5" x2="279.7" y2="216.5" stroke="#333" stroke-width="1.0" />
<text x="275.3" y="219.2" font-size="7.3" text-anchor="end" fill="#222" font-weight="normal" stroke="#222" stroke-width="0.182" >2.0</text>
<line x1="277.9" y1="233.8" x2="279.7" y2="233.8" stroke="#333" stroke-width="1.0" />
<text x="275.3" y="236.5" font-size="7.3" text-anchor="end" fill="#222" font-weight="normal" stroke="#222" stroke-width="0.182" >1.5</text>
<line x1="277.9" y1="251.1" x2="279.7" y2="251.1" stroke="#333" stroke-width="1.0" />
<text x="275.3" y="253.79999999999998" font-size="7.3" text-anchor="end" fill="#222" font-weight="normal" stroke="#222" stroke-width="0.182" >1.0</text>
<line x1="277.9" y1="268.4" x2="279.7" y2="268.4" stroke="#333" stroke-width="1.0" />
<text x="275.3" y="271.09999999999997" font-size="7.3" text-anchor="end" fill="#222" font-weight="normal" stroke="#222" stroke-width="0.182" >0.5</text>
<line x1="277.9" y1="285.7" x2="279.7" y2="285.7" stroke="#333" stroke-width="1.0" />
<text x="275.3" y="288.4" font-size="7.3" text-anchor="end" fill="#222" font-weight="normal" stroke="#222" stroke-width="0.182" >0.0</text>
<line x1="279.7" y1="288.7" x2="397" y2="288.7" stroke="#444" stroke-width="1" />
<line x1="305" y1="288.7" x2="305" y2="290.7" stroke="#333" stroke-width="1.0" />
<text x="304.6" y="300.09999999999997" font-size="8" text-anchor="middle" fill="#222" font-weight="normal" stroke="#222" stroke-width="0.2" >SVNeoPP</text>
<line x1="371.4" y1="288.7" x2="371.4" y2="290.7" stroke="#333" stroke-width="1.0" />
<text x="373" y="300.9" font-size="8" text-anchor="middle" fill="#222" font-weight="normal" stroke="#222" stroke-width="0.2" >NeoSV</text>
<text x="0" y="0" font-size="8.5" text-anchor="middle" fill="#1a1a1a" stroke="#1a1a1a" stroke-width="0.12" textLength="99.4" lengthAdjust="spacingAndGlyphs" transform="translate(260,250.0) rotate(-90)">NetMHCpan EL Rank (%)</text>
<path d="M304,216.8 V213.5 H370.4 V216.8" fill="none" stroke="#2a2a2a" stroke-width="1"/>
<circle cx="332.18" cy="208.50" r="0.95" fill="#1a1a1a"/>
<circle cx="335.52" cy="208.50" r="0.95" fill="#1a1a1a"/>
<circle cx="338.88" cy="208.50" r="0.95" fill="#1a1a1a"/>
<circle cx="342.22" cy="208.50" r="0.95" fill="#1a1a1a"/>
<line x1="289.4" y1="284.8" x2="323" y2="284.8" stroke="#68a8b0" stroke-width="1.6" />
<rect x="355.7" y="268.3" width="32" height="13.800000000000011" fill="none" stroke="#f2a865" stroke-width="1"/>
<line x1="355.7" y1="282.1" x2="387.7" y2="282.1" stroke="#f2a865" stroke-width="1.1" />
<line x1="371.7" y1="253.2" x2="371.7" y2="268.3" stroke="#f2a865" stroke-width="0.9" />
<line x1="371.7" y1="282.1" x2="371.7" y2="284.6" stroke="#f2a865" stroke-width="0.9" />
<line x1="362.7" y1="253.2" x2="380.7" y2="253.2" stroke="#f2a865" stroke-width="0.9" />
<line x1="362.7" y1="284.6" x2="380.7" y2="284.6" stroke="#f2a865" stroke-width="0.9" />
<circle cx="370.9" cy="239.0" r="0.7" fill="#f2b27a" opacity="0.15"/>
<circle cx="365.3" cy="276.3" r="0.7" fill="#f2b27a" opacity="0.15"/>
<circle cx="371.0" cy="243.6" r="0.7" fill="#f2b27a" opacity="0.15"/>
<circle cx="368.7" cy="251.2" r="0.7" fill="#f2b27a" opacity="0.15"/>
<circle cx="359.7" cy="229.3" r="0.7" fill="#f2b27a" opacity="0.15"/>
<circle cx="377.3" cy="234.4" r="0.7" fill="#f2b27a" opacity="0.15"/>
<circle cx="377.5" cy="277.6" r="0.7" fill="#f2b27a" opacity="0.15"/>
<circle cx="361.1" cy="280.6" r="0.7" fill="#f2b27a" opacity="0.15"/>
<circle cx="378.9" cy="271.6" r="0.7" fill="#f2b27a" opacity="0.15"/>
<circle cx="367.7" cy="260.3" r="0.7" fill="#f2b27a" opacity="0.15"/>
<circle cx="382.4" cy="263.6" r="0.7" fill="#f2b27a" opacity="0.15"/>
<circle cx="362.8" cy="249.9" r="0.7" fill="#f2b27a" opacity="0.15"/>
<circle cx="361.3" cy="263.6" r="0.7" fill="#f2b27a" opacity="0.15"/>
<circle cx="366.0" cy="276.6" r="0.7" fill="#f2b27a" opacity="0.15"/>
<circle cx="367.5" cy="269.8" r="0.7" fill="#f2b27a" opacity="0.15"/>
<circle cx="378.6" cy="279.8" r="0.7" fill="#f2b27a" opacity="0.15"/>
<circle cx="368.4" cy="279.5" r="0.7" fill="#f2b27a" opacity="0.15"/>
<circle cx="371.7" cy="275.6" r="0.7" fill="#f2b27a" opacity="0.15"/>
<circle cx="372.5" cy="225.5" r="0.7" fill="#f2b27a" opacity="0.15"/>
<circle cx="362.7" cy="280.7" r="0.7" fill="#f2b27a" opacity="0.15"/>
<circle cx="381.9" cy="269.5" r="0.7" fill="#f2b27a" opacity="0.15"/>
<circle cx="381.1" cy="245.9" r="0.7" fill="#f2b27a" opacity="0.15"/>
<circle cx="365.7" cy="266.8" r="0.7" fill="#f2b27a" opacity="0.15"/>
<circle cx="384.0" cy="277.6" r="0.7" fill="#f2b27a" opacity="0.15"/>
<circle cx="384.3" cy="275.6" r="0.7" fill="#f2b27a" opacity="0.15"/>
<circle cx="360.2" cy="272.8" r="0.7" fill="#f2b27a" opacity="0.15"/>
<circle cx="374.4" cy="274.6" r="0.7" fill="#f2b27a" opacity="0.15"/>
<circle cx="359.2" cy="249.1" r="0.7" fill="#f2b27a" opacity="0.15"/>
<circle cx="366.9" cy="235.7" r="0.7" fill="#f2b27a" opacity="0.15"/>
<circle cx="365.5" cy="239.0" r="0.7" fill="#f2b27a" opacity="0.15"/>
<circle cx="376.4" cy="259.4" r="0.7" fill="#f2b27a" opacity="0.15"/>
<circle cx="364.8" cy="275.0" r="0.7" fill="#f2b27a" opacity="0.15"/>
<circle cx="374.2" cy="271.2" r="0.7" fill="#f2b27a" opacity="0.15"/>
<circle cx="360.7" cy="280.4" r="0.7" fill="#f2b27a" opacity="0.15"/>
<circle cx="364.5" cy="271.6" r="0.7" fill="#f2b27a" opacity="0.15"/>
<circle cx="363.4" cy="230.8" r="0.7" fill="#f2b27a" opacity="0.15"/>
<circle cx="367.6" cy="251.5" r="0.7" fill="#f2b27a" opacity="0.15"/>
<circle cx="370.7" cy="272.5" r="0.7" fill="#f2b27a" opacity="0.15"/>
<circle cx="382.5" cy="276.6" r="0.7" fill="#f2b27a" opacity="0.15"/>
<circle cx="384.3" cy="265.4" r="0.7" fill="#f2b27a" opacity="0.15"/>
<circle cx="530.0" cy="246.3" r="0.7" fill="#f2b27a" opacity="0.15"/>
<circle cx="511.1" cy="273.9" r="0.7" fill="#f2b27a" opacity="0.15"/>
<circle cx="527.1" cy="263.7" r="0.7" fill="#f2b27a" opacity="0.15"/>
<circle cx="518.8" cy="259.1" r="0.7" fill="#f2b27a" opacity="0.15"/>
<circle cx="514.2" cy="238.2" r="0.7" fill="#f2b27a" opacity="0.15"/>
<circle cx="507.1" cy="234.7" r="0.7" fill="#f2b27a" opacity="0.15"/>
<circle cx="512.8" cy="255.0" r="0.7" fill="#f2b27a" opacity="0.15"/>
<circle cx="506.5" cy="267.4" r="0.7" fill="#f2b27a" opacity="0.15"/>
<circle cx="523.3" cy="272.6" r="0.7" fill="#f2b27a" opacity="0.15"/>
<circle cx="528.6" cy="273.7" r="0.7" fill="#f2b27a" opacity="0.15"/>
<circle cx="520.3" cy="272.4" r="0.7" fill="#f2b27a" opacity="0.15"/>
<circle cx="524.7" cy="222.7" r="0.7" fill="#f2b27a" opacity="0.15"/>
<circle cx="513.1" cy="231.6" r="0.7" fill="#f2b27a" opacity="0.15"/>
<circle cx="518.9" cy="259.1" r="0.7" fill="#f2b27a" opacity="0.15"/>
<circle cx="529.7" cy="245.2" r="0.7" fill="#f2b27a" opacity="0.15"/>
<circle cx="514.2" cy="256.3" r="0.7" fill="#f2b27a" opacity="0.15"/>
<circle cx="527.7" cy="236.1" r="0.7" fill="#f2b27a" opacity="0.15"/>
<circle cx="525.6" cy="248.7" r="0.7" fill="#f2b27a" opacity="0.15"/>
<circle cx="510.4" cy="241.7" r="0.7" fill="#f2b27a" opacity="0.15"/>
<circle cx="526.5" cy="251.9" r="0.7" fill="#f2b27a" opacity="0.15"/>
<circle cx="525.9" cy="231.6" r="0.7" fill="#f2b27a" opacity="0.15"/>
<circle cx="526.3" cy="273.6" r="0.7" fill="#f2b27a" opacity="0.15"/>
<circle cx="505.5" cy="268.1" r="0.7" fill="#f2b27a" opacity="0.15"/>
<circle cx="527.7" cy="257.2" r="0.7" fill="#f2b27a" opacity="0.15"/>
<circle cx="512.4" cy="224.8" r="0.7" fill="#f2b27a" opacity="0.15"/>
<circle cx="519.0" cy="237.0" r="0.7" fill="#f2b27a" opacity="0.15"/>
<circle cx="517.6" cy="245.7" r="0.7" fill="#f2b27a" opacity="0.15"/>
<circle cx="505.3" cy="265.5" r="0.7" fill="#f2b27a" opacity="0.15"/>
<circle cx="508.6" cy="225.1" r="0.7" fill="#f2b27a" opacity="0.15"/>
<circle cx="507.1" cy="229.0" r="0.7" fill="#f2b27a" opacity="0.15"/>
<line x1="427.4" y1="203" x2="427.4" y2="288.8" stroke="#444" stroke-width="1" />
<line x1="425.59999999999997" y1="216" x2="427.4" y2="216" stroke="#333" stroke-width="1.0" />
<text x="423.9" y="218.7" font-size="7.3" text-anchor="end" fill="#222" font-weight="normal" stroke="#222" stroke-width="0.182" >1.0</text>
<line x1="425.59999999999997" y1="233" x2="427.4" y2="233" stroke="#333" stroke-width="1.0" />
<text x="423.9" y="235.7" font-size="7.3" text-anchor="end" fill="#222" font-weight="normal" stroke="#222" stroke-width="0.182" >0.8</text>
<line x1="425.59999999999997" y1="250" x2="427.4" y2="250" stroke="#333" stroke-width="1.0" />
<text x="423.9" y="252.7" font-size="7.3" text-anchor="end" fill="#222" font-weight="normal" stroke="#222" stroke-width="0.182" >0.6</text>
<line x1="425.59999999999997" y1="267" x2="427.4" y2="267" stroke="#333" stroke-width="1.0" />
<text x="423.9" y="269.7" font-size="7.3" text-anchor="end" fill="#222" font-weight="normal" stroke="#222" stroke-width="0.182" >0.4</text>
<line x1="425.59999999999997" y1="284" x2="427.4" y2="284" stroke="#333" stroke-width="1.0" />
<text x="423.9" y="286.7" font-size="7.3" text-anchor="end" fill="#222" font-weight="normal" stroke="#222" stroke-width="0.182" >0.2</text>
<line x1="427.4" y1="288.6" x2="548" y2="288.6" stroke="#444" stroke-width="1" />
<line x1="452.2" y1="288.6" x2="452.2" y2="290.6" stroke="#333" stroke-width="1.0" />
<text x="452.5" y="300.0" font-size="8" text-anchor="middle" fill="#222" font-weight="normal" stroke="#222" stroke-width="0.2" >SVNeoPP</text>
<line x1="519.4" y1="288.6" x2="519.4" y2="290.6" stroke="#333" stroke-width="1.0" />
<text x="521" y="300.5" font-size="8" text-anchor="middle" fill="#222" font-weight="normal" stroke="#222" stroke-width="0.2" >NeoSV</text>
<text x="0" y="0" font-size="8.3" text-anchor="middle" fill="#1a1a1a" stroke="#1a1a1a" stroke-width="0.12" textLength="108.5" lengthAdjust="spacingAndGlyphs" transform="translate(411,246.05) rotate(-90)">MHCflurry Presentation Score</text>
<path d="M452,213.4 V210.6 H519.4 V213.4" fill="none" stroke="#333" stroke-width="1"/>
<circle cx="480.58" cy="206.60" r="1.05" fill="#1a1a1a"/>
<circle cx="483.93" cy="206.60" r="1.05" fill="#1a1a1a"/>
<circle cx="487.28" cy="206.60" r="1.05" fill="#1a1a1a"/>
<circle cx="490.62" cy="206.60" r="1.05" fill="#1a1a1a"/>
<line x1="436" y1="220.6" x2="469.6" y2="220.6" stroke="#4a9599" stroke-width="1.7" />
<rect x="501.79999999999995" y="229" width="33" height="24.599999999999994" fill="none" stroke="#f2a865" stroke-width="1"/>
<line x1="501.79999999999995" y1="240" x2="534.8" y2="240" stroke="#f2a865" stroke-width="1.1" />
<line x1="518.3" y1="221.2" x2="518.3" y2="229" stroke="#f2a865" stroke-width="0.9" />
<line x1="518.3" y1="253.6" x2="518.3" y2="278.4" stroke="#f2a865" stroke-width="0.9" />
<line x1="510.29999999999995" y1="221.2" x2="526.3" y2="221.2" stroke="#f2a865" stroke-width="0.9" />
<line x1="510.29999999999995" y1="278.4" x2="526.3" y2="278.4" stroke="#f2a865" stroke-width="0.9" />
</svg></body></html>
